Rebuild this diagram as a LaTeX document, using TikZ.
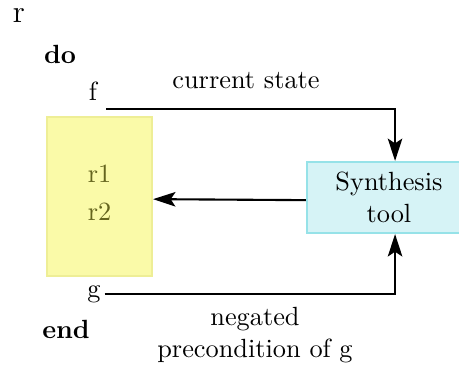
\documentclass[tikz,border=0pt]{standalone}
\usepackage{tikz}
\usetikzlibrary{arrows.meta}
\tikzstyle{kw}=[anchor=base, inner sep=0pt]
\tikzstyle{keyw}=[kw, font=\bfseries]
\tikzstyle{rulebox}=[rectangle, draw=yellowline, fill=yellowfill, line width=0.8pt, text=olivetext, align=center]
\tikzstyle{toolbox}=[rectangle, draw=cyanline, fill=cyanfill, line width=0.8pt, align=center]
\tikzstyle{flow}=[thick, -{Stealth[length=8.5pt, width=5.5pt, inset=1.8pt]}]
\definecolor{yellowfill}{RGB}{250,250,168}
\definecolor{yellowline}{RGB}{238,238,150}
\definecolor{cyanfill}{RGB}{214,243,246}
\definecolor{cyanline}{RGB}{150,226,232}
\definecolor{olivetext}{RGB}{100,100,30}

\begin{document}
\begin{tikzpicture}[x=0.38pt, y=-0.38pt]
    \useasboundingbox (0,0) rectangle (459,364);

    % program text on the left
    \node[kw, font=\large] (r) at (19,22) {r};
    \node[keyw] (do) at (60,63) {do};
    \node[anchor=base] (f) at (93,100) {f};
    \node[anchor=base] (g) at (94,297) {g};
    \node[keyw] (end) at (66,338) {end};

    % the two boxes
    \node[rulebox, minimum width=105*0.38pt, minimum height=159*0.38pt] (rules) at (99.5,196.5) {r1\\[2.4pt]r2\rule[-3pt]{0pt}{3pt}};
    \node[toolbox, minimum width=164*0.38pt, minimum height=71*0.38pt] (synth) at (389,197.5) {Synthesis\\tool};

    % connectors
    \draw[flow] (f.south east) -| ([xshift=2.3pt]synth.north);
    \draw[flow] ([xshift=-2pt]g.east) -| ([xshift=2.3pt]synth.south);
    \draw[flow] ([yshift=-1pt]synth.west) -- ([yshift=-1pt]rules.east);

    % labels
    \node[kw] (cur) at (246,88) {current state};
    \node[inner sep=0pt, anchor=north, align=center] (neg) at (255,307) {negated\\precondition of g};
\end{tikzpicture}
\end{document}
